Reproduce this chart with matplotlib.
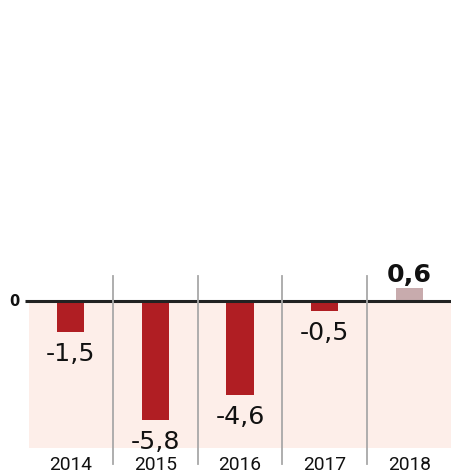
import matplotlib
matplotlib.use("Agg")
import matplotlib.pyplot as plt
from matplotlib import font_manager

years = ["2014", "2015", "2016", "2017", "2018"]
values = [-1.5, -5.8, -4.6, -0.5, 0.6]
labels = ["-1,5", "-5,8", "-4,6", "-0,5", "0,6"]

W, H = 451, 470
fig = plt.figure(figsize=(W / 100, H / 100), dpi=100)
fig.patch.set_facecolor("white")

PT = 72 / 100  # points per pixel


def pick(cands):
    for c in cands:
        try:
            font_manager.findfont(font_manager.FontProperties(family=c), fallback_to_default=False)
            return c
        except Exception:
            continue
    return "DejaVu Sans"


narrow = pick(["Liberation Sans Narrow"])
has_narrow = narrow == "Liberation Sans Narrow"
year_font = narrow if has_narrow else "Roboto"
year_size = 16.5 if has_narrow else 13.8

ax_left, ax_right = 28, 452
ax_top, ax_bottom = 276, 448
zero_y = 300.7
ppu = 20.6
ax = fig.add_axes([ax_left / W, (H - ax_bottom) / H, (ax_right - ax_left) / W, (ax_bottom - ax_top) / H])
ymin = -(ax_bottom - zero_y) / ppu
ymax = (zero_y - ax_top) / ppu
ax.set_xlim(-0.5, len(years) - 0.5)
ax.set_ylim(ymin, ymax)
ax.axis("off")

val_font = "DejaVu Sans"

ax.axhspan(ymin, 0, xmin=0.002, color="#fdeee9", zorder=0, lw=0)

x = list(range(len(years)))
colors = ["#b01e23" if v < 0 else "#c8abad" for v in values]
ax.bar(x, values, width=0.32, color=colors, zorder=2)

ax.plot([-0.5 - 3 / 84.8, 4.5], [0, 0], color="#222222", lw=2.2, zorder=3,
        solid_capstyle="butt", clip_on=False)

sep_bottom = -(464 - ax_bottom) / (ax_bottom - ax_top)
for i in range(1, len(years)):
    ax.axvline(i - 0.5, ymin=sep_bottom, ymax=1.0, color="#a8a8a8", lw=1.3, zorder=4, clip_on=False)

for xi, v, lab in zip(x, values, labels):
    if v < 0:
        ax.annotate(lab, (xi, v), xytext=(0, -29 * PT), textcoords="offset points",
                    ha="center", va="baseline", fontsize=18.2, family=val_font, color="#111111")
    else:
        ax.annotate(lab, (xi, v), xytext=(0, 6.5 * PT), textcoords="offset points",
                    ha="center", va="baseline", fontsize=18.2, family=val_font, fontweight="bold",
                    color="#111111")

for xi, y in zip(x, years):
    ax.annotate(y, (xi, ymin), xytext=(0, -21.5 * PT), textcoords="offset points",
                ha="center", va="baseline", fontsize=year_size, family=year_font, color="#111111",
                annotation_clip=False)

ax.annotate("0", (-0.5, 0), xytext=(-8 * PT, -5.3 * PT), textcoords="offset points",
            ha="right", va="baseline", fontsize=10.5, family=val_font, fontweight="bold", color="#111111",
            annotation_clip=False)

fig.savefig("out.png", dpi=100)
